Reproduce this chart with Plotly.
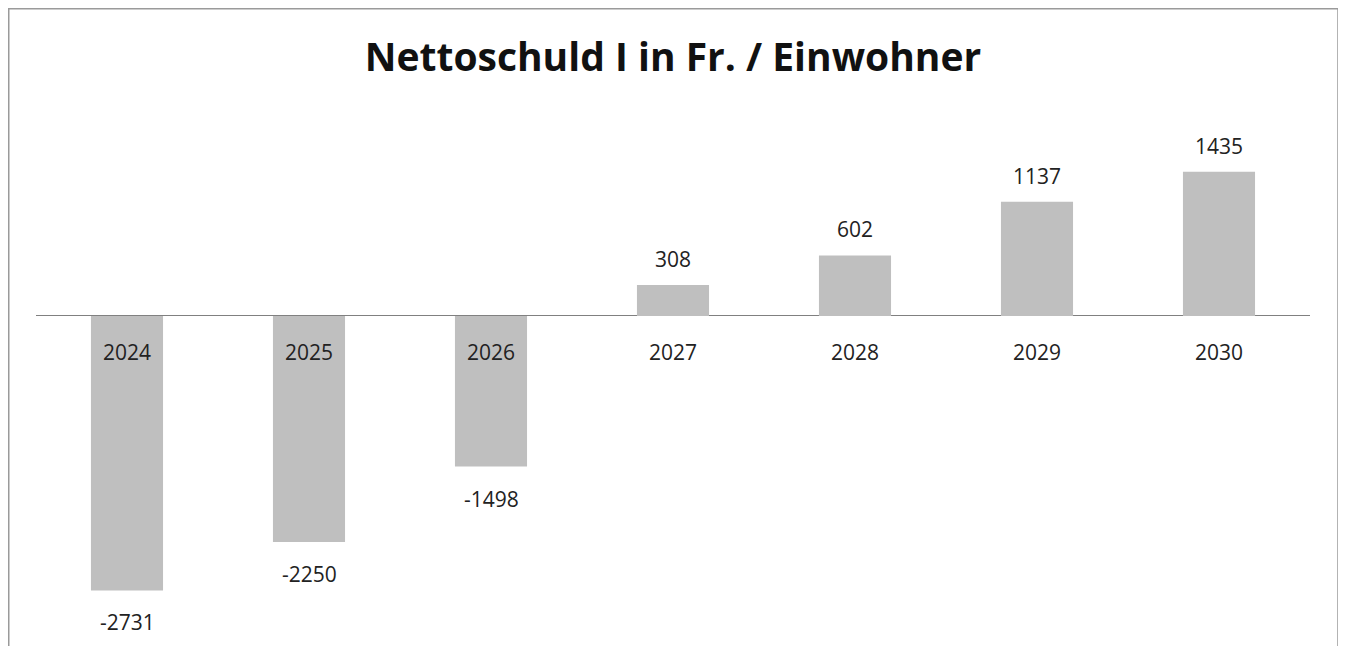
import plotly.graph_objects as go

years = ["2024", "2025", "2026", "2027", "2028", "2029", "2030"]
values = [-2731, -2250, -1498, 308, 602, 1137, 1435]
title_text = "Nettoschuld I in Fr. / Einwohner"

# page renders the figure with an 8px body offset; layout below compensates
OFF = 8
W, H = 1346, 646
plot_left, plot_right = 36 - OFF, 1310 - OFF
plot_top, plot_bottom = 100 - OFF, 640 - OFF

fig = go.Figure()
fig.add_trace(go.Bar(
    x=years, y=values,
    marker=dict(color="#BFBFBF", line=dict(width=0)),
    width=0.396,
    hoverinfo="x+y",
))

font_family = "'Open Sans', Lato, sans-serif"
annotations = []
for i, (yr, v) in enumerate(zip(years, values)):
    annotations.append(dict(
        x=i, y=0, xref="x", yref="y", text=yr, showarrow=False,
        yanchor="middle", yshift=-36,
        font=dict(family=font_family, size=21, color="#222222"),
    ))
    annotations.append(dict(
        x=i, y=v, xref="x", yref="y", text=str(v), showarrow=False,
        yanchor="middle", yshift=(26 if v > 0 else -32),
        font=dict(family=font_family, size=21, color="#222222"),
    ))

pw = plot_right - plot_left
ph = plot_bottom - plot_top

fig.update_layout(
    width=W, height=H,
    margin=dict(l=plot_left, r=W - plot_right, t=plot_top, b=H - plot_bottom),
    paper_bgcolor="white", plot_bgcolor="white",
    showlegend=False,
    title=dict(text="<b>" + title_text + "</b>", x=(673 - OFF) / W, xanchor="center",
               y=1 - (57 - OFF) / H, yanchor="middle", yref="container",
               font=dict(family=font_family, size=39, color="#111111")),
    xaxis=dict(type="category", categoryorder="array", categoryarray=years,
               range=[-0.5, len(years) - 0.5],
               showticklabels=False, showgrid=False, zeroline=False,
               showline=False, ticks="", fixedrange=True),
    yaxis=dict(range=[-3224, 2149], showticklabels=False, showgrid=False,
               zeroline=True, zerolinecolor="#808080", zerolinewidth=1.2,
               showline=False, ticks="", fixedrange=True),
    annotations=annotations,
    shapes=[dict(type="rect", xref="paper", yref="paper",
                 x0=(0.75 - plot_left) / pw, x1=(1338 - OFF - plot_left) / pw,
                 y0=-0.1, y1=(plot_bottom - 0.75) / ph,
                 line=dict(color="#9A9A9A", width=1.5), fillcolor="rgba(0,0,0,0)",
                 layer="below")],
)

fig.write_html("out.html")
